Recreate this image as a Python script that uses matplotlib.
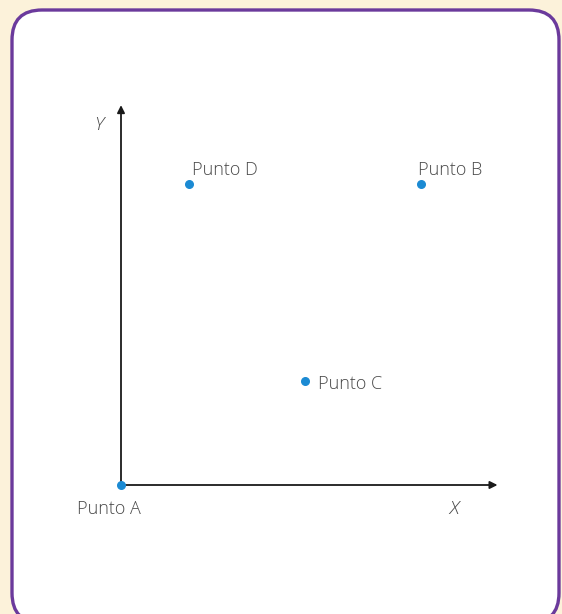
import matplotlib
matplotlib.use("Agg")
import matplotlib.pyplot as plt
from matplotlib.patches import FancyBboxPatch

# puntos en el plano (unidades arbitrarias)
names = ["Punto A", "Punto B", "Punto C", "Punto D"]
xs = [0.0, 10.0, 6.13, 2.27]
ys = [0.0, 10.0, 3.46, 10.0]

W, H = 562, 614
fig = plt.figure(figsize=(W / 100, H / 100), dpi=100)
fig.patch.set_facecolor("#fcf2da")

# marco redondeado (el borde inferior queda fuera de la imagen)
bg = fig.add_axes([0, 0, 1, 1])
bg.set_xlim(0, W)
bg.set_ylim(H, 0)
bg.axis("off")
bg.add_patch(FancyBboxPatch((12, 10), 547, 613,
                            boxstyle="round,pad=0,rounding_size=30",
                            facecolor="white", edgecolor="#6b3a9c", linewidth=2.4))

# ejes de datos: 30 px por unidad, origen en (121, 485)
x_end, y_end = 12.55, 12.62
ax = fig.add_axes([121 / W, (H - 485) / H, x_end * 30 / W, y_end * 30.1 / H])
ax.set_xlim(0, x_end)
ax.set_ylim(0, y_end)
ax.axis("off")

arrow = dict(arrowstyle="-|>", color="#1a1a1a", lw=1.3, mutation_scale=11,
             shrinkA=0, shrinkB=0)
ax.annotate("", xy=(x_end, 0), xytext=(0, 0), arrowprops=arrow)
ax.annotate("", xy=(0, y_end), xytext=(0, 0), arrowprops=arrow)

ax.scatter(xs, ys, s=30, color="#1b8ad3", zorder=5, clip_on=False)

font = dict(family="Open Sans", fontweight="light", fontsize=13, color="#4a4a4a")
ax.text(-0.4, -0.5, names[0], ha="center", va="top", **font)
ax.text(xs[1] - 0.1, ys[1] + 0.17, names[1], ha="left", va="bottom", **font)
ax.text(xs[2] + 0.45, ys[2] - 0.1, names[2], ha="left", va="center", **font)
ax.text(xs[3] + 0.1, ys[3] + 0.17, names[3], ha="left", va="bottom", **font)

axis_font = dict(font, fontsize=14)
ax.text(-0.75, 11.95, "Y", ha="center", va="center", style="italic", **axis_font)
ax.text(11.1, -0.8, "X", ha="center", va="center", style="italic", **axis_font)

fig.savefig("out.png", dpi=100, facecolor=fig.get_facecolor())
